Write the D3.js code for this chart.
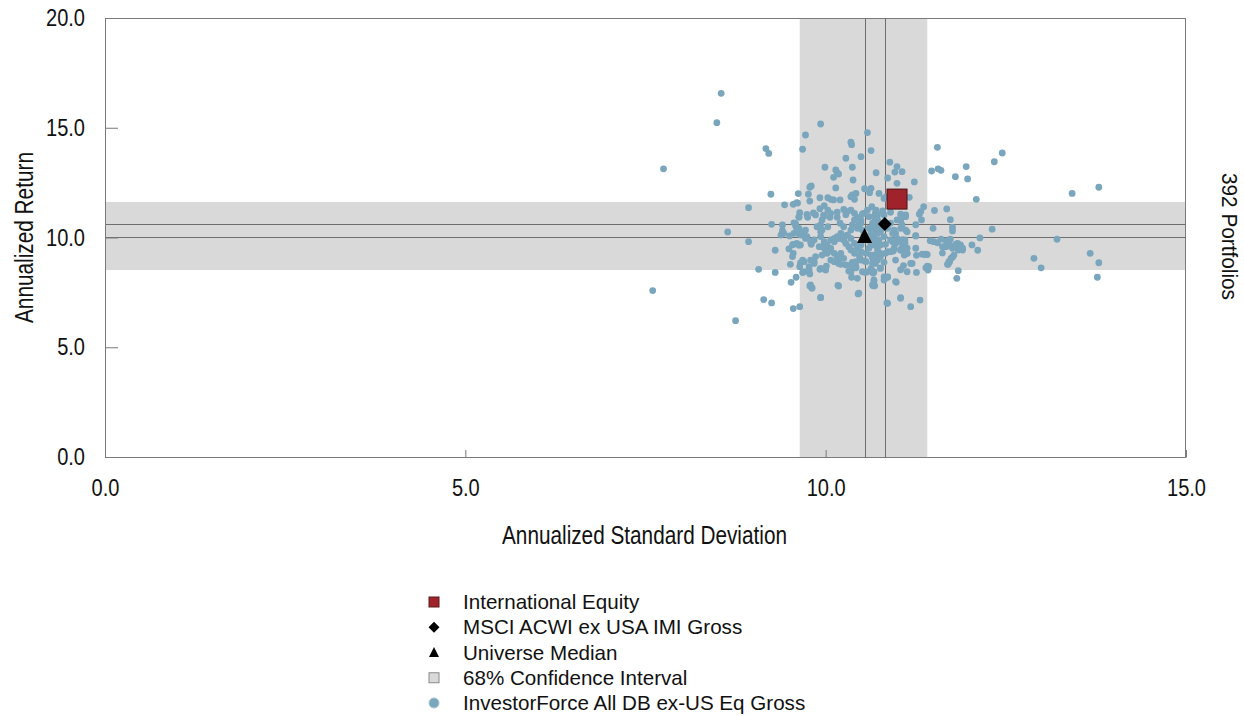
<!DOCTYPE html>
<html><head><meta charset="utf-8">
<script src="https://cdn.jsdelivr.net/npm/d3@7"></script>
<style>
html,body{margin:0;padding:0;background:#fff;}
svg{display:block;}
text{font-family:"Liberation Sans",Arial,sans-serif;}
</style>
</head><body>
<svg id="chart" width="1244" height="716"></svg>
<script>
// ---------- data ----------
const xTickValues = [0, 5, 10, 15];
const yTickValues = [0, 5, 10, 15, 20];
const xTitle = "Annualized Standard Deviation";
const yTitle = "Annualized Return";
const rightLabel = "392 Portfolios";

// 68% confidence interval bands
const ciRisk = [9.64, 11.41];
const ciReturn = [8.52, 11.62];

// benchmark & median crosshairs
const benchmarkPoint = [10.82, 10.61];   // MSCI ACWI ex USA IMI Gross
const medianPoint = [10.54, 10.02];      // Universe Median
const portfolioPoint = [10.99, 11.75];   // International Equity

const legendLabels = ["International Equity", "MSCI ACWI ex USA IMI Gross", "Universe Median", "68% Confidence Interval", "InvestorForce All DB ex-US Eq Gross"];

// universe portfolios [std dev, return]
const universePoints = [
[8.55,16.57],[8.49,15.23],[9.17,14.05],[9.21,13.83],[7.75,13.13],[9.24,11.97],[8.93,11.36],[9.43,11.49],[9.55,11.51],[9.61,11.57],[9.62,12.00],[9.25,10.60],[8.64,10.25],[8.93,9.81],[9.30,9.42],[9.07,8.55],[9.30,8.41],[7.60,7.58],[9.14,7.17],[9.25,7.02],[8.75,6.21],[9.55,6.76],[9.59,8.19],[9.52,7.96],[9.51,8.78],[9.54,9.13],[9.55,9.28],[9.55,9.69],[9.50,10.07],[9.40,10.31],[9.42,10.19],[9.56,10.67],[9.59,10.49],[9.60,10.40],[9.63,10.95],[9.64,11.13],[9.63,10.16],[9.63,9.65],[9.65,8.84],[9.64,6.85],
[13.42,12.01],[13.79,12.29],[13.21,9.92],[12.89,9.05],[12.99,8.62],[13.67,9.28],[13.79,8.85],[13.77,8.19],
[11.55,14.11],[12.45,13.85],[12.34,13.45],[11.95,13.23],[11.47,13.03],[11.56,13.13],[11.60,13.06],[11.80,12.77],[11.97,12.67],[12.09,11.74],[10.89,13.43],[10.99,13.23],[10.96,12.98],[11.06,13.00],[10.70,12.95],[10.63,13.96],[10.86,12.71],[10.99,12.47],[11.23,12.53],[10.74,12.01],[10.81,11.78],[10.84,11.86],[11.16,11.83],[11.36,11.40],[11.32,11.18],[11.30,11.06],[11.51,11.23],[11.68,11.30],[11.73,10.81],[11.33,10.80],[11.49,10.42],[11.76,10.46],[11.11,11.03],[11.04,10.78],[10.99,10.80],[10.70,11.25],[10.72,11.03],[10.67,10.95],[10.79,11.21],[10.64,11.40],[10.63,12.24],
[12.31,10.38],[12.14,9.98],[12.03,9.66],[12.11,9.42],[11.76,10.30],[11.25,10.58],[11.25,10.07],[11.45,9.85],[11.50,9.81],[11.55,9.76],[11.60,9.93],[11.67,9.85],[11.73,9.92],[11.67,9.58],[11.74,9.61],[11.81,9.70],[11.87,9.61],[11.90,9.43],[11.83,9.51],[11.62,9.29],[11.78,9.20],[11.76,9.10],[11.72,8.90],[11.70,8.78],[11.84,8.49],[11.82,8.14],[11.37,9.22],[11.41,9.22],[11.26,9.19],[11.25,9.51],[11.20,8.82],[11.26,8.41],[11.41,8.70],[11.42,8.52],[11.39,8.62],[11.31,7.15],[11.18,6.85],[11.04,7.26],[11.08,8.72],[11.09,9.46],[11.11,9.35],[11.07,9.89],[11.10,9.74],
[11.73,9.64],[11.76,9.51],[11.68,9.64],[11.62,9.58],[11.83,9.73],[11.90,9.51],[11.87,9.66],[11.84,9.43],[11.74,9.05],[11.71,8.90],[11.69,8.78],[11.43,8.67],[10.85,7.02],[11.13,9.28],[11.09,9.20],[10.98,7.96],[10.81,8.21],[10.86,8.19],[10.67,8.02],[10.68,7.80],[10.66,8.37],[10.76,8.62],[10.81,8.87],[11.04,8.53],[10.97,8.97],[10.90,9.35],[10.94,9.38],[10.83,9.28],[10.76,9.13],[10.72,9.20],[10.66,9.13],[10.63,9.20],[10.63,8.59],[10.65,8.44],[11.11,9.43],[11.06,9.54],[11.04,9.43],[10.90,9.89],[10.93,9.81],[10.97,9.73],[10.99,9.96],[11.05,9.81],[11.09,9.66],[11.13,9.51],[11.06,9.89],[11.10,9.89],[10.95,10.34],[10.93,10.19],[10.97,10.19],[11.11,10.34],[11.13,10.26],[11.06,10.57],[11.25,10.08],[11.34,9.24],[11.39,9.24],[10.65,9.96],[10.69,9.89],[10.74,9.89],[10.63,9.73],[10.68,9.66],[10.76,9.66],[10.83,9.69],[10.72,9.43],[10.65,10.42],[10.69,10.34],[10.72,10.19],[10.67,10.11],[10.76,10.34],[10.81,10.49],[10.86,10.42],[10.72,10.54],
[9.93,15.17],[9.72,14.67],[9.68,14.02],[10.35,14.34],[10.36,14.23],[10.58,14.78],[10.28,13.61],[10.49,13.68],[10.37,13.20],[9.99,13.20],[10.14,13.08],[10.16,12.95],[10.18,12.89],[10.11,12.74],[10.38,12.62],[9.80,12.35],[9.78,12.29],[10.14,12.26],[10.54,12.22],[9.76,11.97],[10.37,11.94],[10.42,12.01],[10.40,11.74],[10.35,11.86],[9.92,11.81],[10.03,11.81],[10.07,11.74],[10.11,11.71],[10.20,11.71],[9.78,11.66],[9.60,11.59],[9.92,11.31],[9.98,11.45],[10.03,11.25],[10.07,11.10],[9.98,10.98],[9.86,11.03],[9.75,10.92],[9.63,10.92],[9.95,10.80],[10.06,10.92],[10.16,10.92],[10.25,11.28],[10.30,11.18],[10.35,11.25],[10.40,11.10],[10.44,10.92],[10.49,10.80],[10.53,11.10],[10.58,11.25],[10.60,10.95],[10.72,10.80],[10.76,10.65],[10.03,10.49],[10.25,10.49],[10.46,10.57],[10.20,10.65],[10.61,12.04],
[9.93,7.26],[9.78,7.79],[9.81,7.71],[9.68,8.40],[9.78,8.34],[9.64,8.67],[9.68,8.97],[9.70,8.90],[9.77,8.67],[9.84,8.90],[9.92,8.55],[10.01,8.70],[10.17,7.82],[10.45,7.43],[10.15,8.90],[10.21,8.78],[10.32,8.47],[10.36,8.19],[10.42,8.62],[10.42,8.90],[10.37,8.87],[10.54,8.93],[10.55,8.40],[10.66,8.40],[10.66,7.80],[10.12,9.28],[10.18,9.05],[10.07,9.38],[9.98,9.51],[10.02,9.28],
[9.81,9.81],[9.80,9.69],[9.65,9.66],[9.54,9.66],[9.49,9.48],[9.38,10.11],[9.40,10.57],[9.58,10.57],[9.68,10.19],[9.72,10.34],[9.74,10.04],[9.93,10.26],[9.93,10.57],[9.98,9.81],[10.02,9.51],[10.07,9.89],[10.12,9.96],[10.16,10.04],[10.20,9.96],[10.25,9.89],[10.30,10.11],[10.35,9.96],[10.40,9.73],[10.44,9.51],[10.49,9.35],[10.47,9.13],[10.56,9.28],[10.60,9.51],[10.67,9.66],[10.72,9.28],[10.65,9.05],[10.69,8.82],[10.35,8.75],[10.37,8.60],
[9.58,10.64],[9.63,10.42],[9.70,10.26],[9.65,10.11],[9.56,10.19],[9.72,9.96],[9.79,9.81],[9.60,9.73],
[9.88,10.49],[9.95,10.34],[9.93,10.04],[9.84,9.89],[9.98,9.73],[9.91,9.58],[10.02,9.66],[10.07,9.51],[10.00,9.35],[9.95,9.20],[9.86,9.13],[9.79,8.97],[10.12,9.81],[10.16,9.96],[10.21,10.19],[10.25,10.04],[10.30,10.11],[10.35,10.34],[10.37,10.57],[10.40,10.80],[10.49,10.65],[10.44,10.42],[10.51,10.34],[10.53,10.11],[10.58,9.89],[10.63,9.73],[10.67,9.96],[10.69,10.19],[10.72,10.42],[10.76,10.26],[10.81,10.04],[10.63,10.19],[10.60,10.42],[10.65,10.65],[10.28,9.73],[10.32,9.58],[10.35,9.43],[10.40,9.28],[10.49,9.66],[10.21,9.28],[10.16,9.13],[10.12,8.90],[10.07,8.97],[10.25,9.05],[10.18,8.82],[10.37,8.82],[10.49,8.97],[10.56,8.90],[10.65,8.82],[10.72,8.97],[10.67,9.20],[10.76,9.28],[10.86,9.35],[10.95,9.51],[11.04,9.43],[11.09,9.73],[10.99,9.81],[10.95,10.19],[11.04,10.42],[10.90,10.65],[11.04,10.80],[11.11,10.95],
[9.74,11.05],[9.83,11.12],[9.97,11.02],[10.16,11.15],[10.28,11.04],[10.51,11.08],[10.69,11.12],[10.81,11.03],[10.90,11.15],[11.04,11.06],
[9.70,8.44],[9.77,8.52],[9.84,8.82],[9.93,8.59],[10.00,8.52],[9.79,7.84],[9.81,7.69],[9.93,7.27],[10.18,7.79],[10.28,8.75],[10.35,8.44],[10.42,8.67],[10.44,8.14],[10.51,8.44],[10.58,8.44],[10.67,8.44],[10.67,8.06],[10.65,7.84],[10.76,8.59],[10.86,8.21],[10.81,8.06],[10.97,7.99],[11.04,7.23],[11.18,8.82],[11.13,9.28],[11.13,8.44],[10.86,7.00],[10.46,7.46]
];

// ---------- layout ----------
const plot = {left: 105, right: 1186, top: 18, bottom: 457};
const svg = d3.select("#chart");

const x = d3.scaleLinear().domain([0, 15]).range([plot.left, plot.right]);
const y = d3.scaleLinear().domain([0, 20]).range([plot.bottom, plot.top]);

const gridColor = "#7a7a7a";
const shade = "#d9d9d9";
const dotColor = "#7aa6bd";

// condense text horizontally (reference uses a narrow face)
function squeeze(sel, factor) {
  sel.each(function () {
    const len = this.getComputedTextLength();
    d3.select(this).attr("textLength", len * factor).attr("lengthAdjust", "spacingAndGlyphs");
  });
}

// confidence bands
svg.append("rect")
  .attr("x", x(0)).attr("width", x(15) - x(0))
  .attr("y", y(ciReturn[1])).attr("height", y(ciReturn[0]) - y(ciReturn[1]))
  .attr("fill", shade);
svg.append("rect")
  .attr("x", x(ciRisk[0])).attr("width", x(ciRisk[1]) - x(ciRisk[0]))
  .attr("y", y(20)).attr("height", y(0) - y(20))
  .attr("fill", shade);

// crosshair lines
[benchmarkPoint, medianPoint].forEach(p => {
  svg.append("line").attr("x1", x(0)).attr("x2", x(15))
    .attr("y1", Math.round(y(p[1])) + 0.5).attr("y2", Math.round(y(p[1])) + 0.5)
    .attr("stroke", "#6d6d6d").attr("stroke-width", 1);
  svg.append("line").attr("y1", y(0)).attr("y2", y(20))
    .attr("x1", Math.round(x(p[0])) + 0.5).attr("x2", Math.round(x(p[0])) + 0.5)
    .attr("stroke", "#6d6d6d").attr("stroke-width", 1);
});

// axes
const fmt = d3.format(".1f");
const xAxis = svg.append("g").attr("transform", `translate(0,${plot.bottom})`)
  .call(d3.axisBottom(x).tickValues(xTickValues).tickFormat(fmt).tickSizeInner(-7).tickSizeOuter(0).tickPadding(22));
const yAxis = svg.append("g").attr("transform", `translate(${plot.left},0)`)
  .call(d3.axisLeft(y).tickValues(yTickValues).tickFormat(fmt).tickSizeInner(-13).tickSizeOuter(0).tickPadding(20));
[xAxis, yAxis].forEach(g => {
  g.select(".domain").attr("stroke", gridColor);
  g.selectAll(".tick line").attr("stroke", gridColor);
  g.selectAll(".tick text").attr("font-family", "Liberation Sans, Arial, sans-serif").attr("font-size", 24).attr("fill", "#111");
  squeeze(g.selectAll(".tick text"), 0.835);
});
xAxis.selectAll(".tick text").attr("dy", "0.71em");
// frame top/right
svg.append("line").attr("x1", plot.left).attr("x2", plot.right).attr("y1", plot.top + 0.5).attr("y2", plot.top + 0.5).attr("stroke", gridColor);
svg.append("line").attr("x1", plot.right - 0.5).attr("x2", plot.right - 0.5).attr("y1", plot.top).attr("y2", plot.bottom).attr("stroke", gridColor);

// points
svg.append("g").selectAll("circle").data(universePoints).join("circle")
  .attr("cx", d => x(d[0])).attr("cy", d => y(d[1])).attr("r", 3.4)
  .attr("fill", dotColor);

// markers
svg.append("path").attr("d", "M0,-9L7.5,6L-7.5,6Z")
  .attr("transform", `translate(${x(medianPoint[0])},${y(medianPoint[1])})`).attr("fill", "#000");
svg.append("path").attr("d", "M0,-7L7,0L0,7L-7,0Z")
  .attr("transform", `translate(${x(benchmarkPoint[0])},${y(benchmarkPoint[1])})`).attr("fill", "#000");
svg.append("rect")
  .attr("x", x(portfolioPoint[0]) - 10).attr("y", y(portfolioPoint[1]) - 10)
  .attr("width", 20).attr("height", 20)
  .attr("fill", "#a0222b").attr("stroke", "#4a1216").attr("stroke-width", 1);

// titles
svg.append("text").attr("x", 644.5).attr("y", 544)
  .attr("text-anchor", "middle").attr("font-size", 25).attr("fill", "#111")
  .attr("textLength", 285).attr("lengthAdjust", "spacingAndGlyphs").text(xTitle);
svg.append("text")
  .attr("transform", `translate(33,237.5) rotate(-90)`)
  .attr("text-anchor", "middle").attr("font-size", 25).attr("fill", "#111")
  .attr("textLength", 171).attr("lengthAdjust", "spacingAndGlyphs").text(yTitle);
svg.append("text")
  .attr("transform", `translate(1222,236.5) rotate(90)`)
  .attr("text-anchor", "middle").attr("font-size", 21.5).attr("fill", "#111")
  .attr("textLength", 127).attr("lengthAdjust", "spacingAndGlyphs").text(rightLabel);

// legend
const legendY = d3.scaleLinear().domain([0, 4]).range([602, 703]);
const lg = svg.append("g");
legendLabels.forEach((label, i) => {
  const cy = legendY(i), cx = 434;
  if (i === 0) lg.append("rect").attr("x", cx - 5).attr("y", cy - 5).attr("width", 10).attr("height", 10).attr("fill", "#a0222b").attr("stroke", "#5a1a1a");
  if (i === 1) lg.append("path").attr("d", "M0,-5.5L5.5,0L0,5.5L-5.5,0Z").attr("transform", `translate(${cx},${cy})`).attr("fill", "#000");
  if (i === 2) lg.append("path").attr("d", "M0,-5.5L5,4.5L-5,4.5Z").attr("transform", `translate(${cx},${cy})`).attr("fill", "#000");
  if (i === 3) lg.append("rect").attr("x", cx - 5).attr("y", cy - 5).attr("width", 10).attr("height", 10).attr("fill", shade).attr("stroke", "#8a8a8a");
  if (i === 4) lg.append("circle").attr("cx", cx).attr("cy", cy).attr("r", 5).attr("fill", dotColor).attr("stroke", "#a9c3d0");
  lg.append("text").attr("x", 463).attr("y", cy + 7)
    .attr("font-size", 20.6).attr("fill", "#111").text(label);
});
</script>
</body></html>
